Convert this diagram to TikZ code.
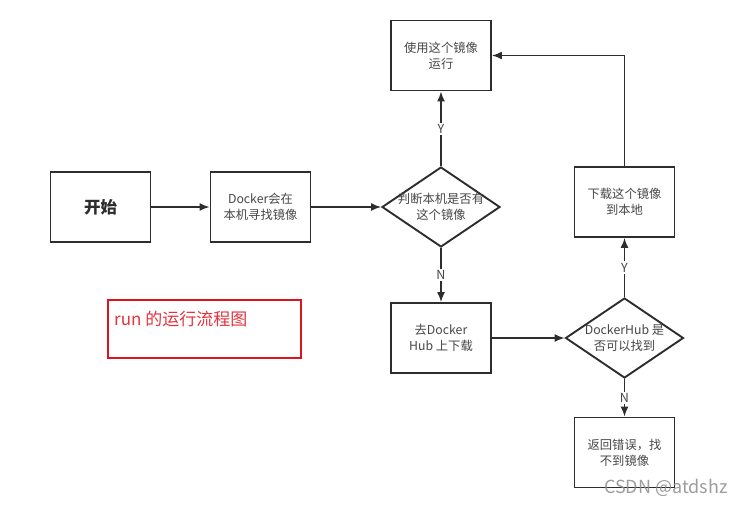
\documentclass[tikz,border=0pt]{standalone}
\usepackage{fontspec}
\setmainfont{Noto Sans CJK SC}
\usetikzlibrary{shapes.geometric,arrows.meta}
\definecolor{ink}{RGB}{45,45,45}
\definecolor{txt}{RGB}{70,70,70}
\definecolor{redline}{RGB}{220,20,30}
\definecolor{redtxt}{RGB}{230,50,60}
\tikzset{
  box/.style={draw=ink, line width=1.9pt, minimum width=100pt, minimum height=70pt, inner sep=0pt, align=center, text=txt, font=\fontsize{12.3}{16}\selectfont},
  dec/.style={draw=ink, line width=1.9pt, diamond, minimum width=118pt, minimum height=80pt, inner sep=0pt},
  dectext/.style={align=center, text=txt, font=\fontsize{12.3}{16}\selectfont},
  arr/.style={draw=ink, line width=1.5pt, -{Latex[length=10pt,width=8pt]}},
  yn/.style={fill=white, text=txt, inner sep=1.5pt, font=\fontsize{12.5}{14}\selectfont}
}
\begin{document}
\begin{tikzpicture}[x=1pt,y=-1pt]
\useasboundingbox (0,0) rectangle (747,506);
\node[box, font=\fontsize{16.5}{18}\bfseries\selectfont, text=ink] (start) at (100.5,207) {开始};
\node[box] (find) at (260.5,207) {Docker会在\\本机寻找镜像};
\node[dec] (dec1) at (441,207) {};
\node[dectext] (dec1t) at (441,207) {判断本机是否有\\这个镜像};
\node[box] (use) at (441,55.5) {使用这个镜像\\运行};
\node[box] (dl) at (624.5,202) {下载这个镜像\\到本地};
\node[box] (hub) at (441,338) {去Docker\\Hub 上下载};
\node[dec] (dec2) at (624.5,338) {};
\node[dectext] (dec2t) at (624.5,338) {DockerHub 是\\否可以找到};
\node[box] (err) at (624.5,452.5) {返回错误，找\\不到镜像};

\draw[arr] (start.east) -- (find.west);
\draw[arr] (find.east) -- (dec1.west);
\draw[arr] (dec1.north) -- node[yn] (y1) {Y} (use.south);
\draw[arr] (dec1.south) -- node[yn] (n1) {N} (hub.north);
\draw[arr] (hub.east) -- (dec2.west);
\draw[arr] (dec2.north) -- node[yn] (y2) {Y} (dl.south);
\draw[arr] (dec2.south) -- node[yn] (n2) {N} (err.north);
\draw[arr] (dl.north) |- (use.east);

\node[draw=redline, line width=1.4pt, minimum width=193pt, minimum height=58pt, inner sep=0pt] (note) at (204.5,329) {};
\node[anchor=west, text=redtxt, inner sep=0pt, font=\fontsize{17}{19}\selectfont] (notet) at (114,319) {run 的运行流程图};

\node[text=black!45, opacity=0.85, inner sep=0pt, font=\fontsize{18}{20}\selectfont] (wm) at (666,488) {CSDN @atdshz};
\end{tikzpicture}
\end{document}
